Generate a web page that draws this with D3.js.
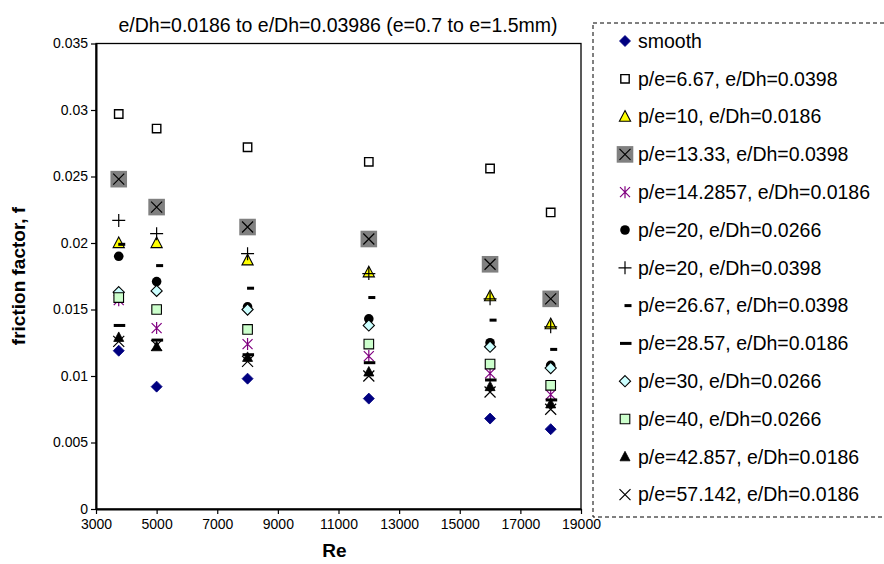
<!DOCTYPE html>
<html>
<head>
<meta charset="utf-8">
<script src="https://cdn.jsdelivr.net/npm/d3@7"></script>
<style>
  html, body { margin: 0; padding: 0; background: #fff; }
  svg { display: block; font-family: "Liberation Sans", Arial, sans-serif; }
</style>
</head>
<body>
<svg id="chart" width="884" height="564"></svg>
<script>
// ---------------- DATA ----------------
const reynolds = [3750, 5000, 8000, 12000, 16000, 18000];

const seriesNames = [
  "smooth",
  "p/e=6.67, e/Dh=0.0398",
  "p/e=10, e/Dh=0.0186",
  "p/e=13.33, e/Dh=0.0398",
  "p/e=14.2857, e/Dh=0.0186",
  "p/e=20, e/Dh=0.0266",
  "p/e=20, e/Dh=0.0398",
  "p/e=26.67, e/Dh=0.0398",
  "p/e=28.57, e/Dh=0.0186",
  "p/e=30, e/Dh=0.0266",
  "p/e=40, e/Dh=0.0266",
  "p/e=42.857, e/Dh=0.0186",
  "p/e=57.142, e/Dh=0.0186"
];

const smooth   = [0.0119, 0.0092, 0.0098, 0.0083, 0.0068, 0.0060];
const pe6_67   = [0.0297, 0.0286, 0.0272, 0.0261, 0.0256, 0.0223];
const pe10     = [0.0200, 0.0200, 0.0187, 0.0178, 0.0160, 0.0139];
const pe13_33  = [0.0248, 0.0227, 0.0212, 0.0203, 0.0184, 0.0158];
const pe14_29  = [0.0157, 0.0136, 0.0124, 0.0115, 0.0102, 0.0086];
const pe20a    = [0.0190, 0.0171, 0.0152, 0.0143, 0.0125, 0.0108];
const pe20b    = [0.0217, 0.0207, 0.0192, 0.0177, 0.0158, 0.0137];
const pe26_67  = [0.0199, 0.0183, 0.0166, 0.0159, 0.0142, 0.0120];
const pe28_57  = [0.0138, 0.0127, 0.0116, 0.0110, 0.0097, 0.0082];
const pe30     = [0.0163, 0.0164, 0.0150, 0.0138, 0.0122, 0.0106];
const pe40     = [0.0159, 0.0150, 0.0135, 0.0124, 0.0109, 0.0093];
const pe42_857 = [0.0129, 0.0122, 0.0114, 0.0103, 0.0092, 0.0079];
const pe57_142 = [0.0126, 0.0123, 0.0111, 0.0100, 0.0088, 0.0075];

const xTicks = [3000, 5000, 7000, 9000, 11000, 13000, 15000, 17000, 19000];
const yTicks = [0, 0.005, 0.01, 0.015, 0.02, 0.025, 0.03, 0.035];

const titleText = "e/Dh=0.0186 to e/Dh=0.03986 (e=0.7 to e=1.5mm)";
const xTitle = "Re";
const yTitle = "friction factor, f";

const seriesValues = [smooth, pe6_67, pe10, pe13_33, pe14_29, pe20a, pe20b,
                      pe26_67, pe28_57, pe30, pe40, pe42_857, pe57_142];

// ---------------- MARKERS (styles) ----------------
const markerTypes = ["diamondNavy", "squareWhite", "triYellow", "graySqX", "asterisk",
                     "circle", "plus", "shortDash", "longDash", "diamondCyan",
                     "squareGreen", "triBlack", "xMark"];

function diamondPath(r) { return `M0,${-r}L${r},0L0,${r}L${-r},0Z`; }
function squarePath(h) { return `M${-h},${-h}H${h}V${h}H${-h}Z`; }
function triPath(w, hTop, hBot) { return `M0,${-hTop}L${w},${hBot}L${-w},${hBot}Z`; }

function drawMarker(g, type) {
  switch (type) {
    case "diamondNavy":
      g.append("path").attr("d", diamondPath(5.5)).attr("fill", "#000080").attr("stroke", "#000080").attr("stroke-width", 0.8);
      break;
    case "squareWhite":
      g.append("path").attr("d", squarePath(4.2)).attr("fill", "#fff").attr("stroke", "#000").attr("stroke-width", 1.4);
      break;
    case "triYellow":
      g.append("path").attr("d", triPath(5.6, 6, 4.6)).attr("fill", "#ffff00").attr("stroke", "#000").attr("stroke-width", 1.1);
      break;
    case "graySqX":
      g.append("rect").attr("x", -8.3).attr("y", -8.3).attr("width", 16.6).attr("height", 16.6).attr("fill", "#808080");
      g.append("path").attr("d", "M-5.5,-5.5L5.5,5.5M5.5,-5.5L-5.5,5.5").attr("stroke", "#000").attr("stroke-width", 1.2).attr("fill", "none");
      break;
    case "asterisk":
      g.append("path").attr("d", "M-5,-5L5,5M5,-5L-5,5M0,-6V6").attr("stroke", "#800080").attr("stroke-width", 1.2).attr("fill", "none");
      break;
    case "circle":
      g.append("circle").attr("r", 4.8).attr("fill", "#000");
      break;
    case "plus":
      g.append("path").attr("d", "M-6.5,0H6.5M0,-6.5V6.5").attr("stroke", "#000").attr("stroke-width", 1.2).attr("fill", "none");
      break;
    case "shortDash":
      g.append("rect").attr("x", -0.5).attr("y", -1.5).attr("width", 7).attr("height", 3).attr("fill", "#000");
      break;
    case "longDash":
      g.append("rect").attr("x", -5).attr("y", -1.5).attr("width", 11.5).attr("height", 3).attr("fill", "#000");
      break;
    case "diamondCyan":
      g.append("path").attr("d", diamondPath(5.6)).attr("fill", "#ccffff").attr("stroke", "#000").attr("stroke-width", 1.1);
      break;
    case "squareGreen":
      g.append("path").attr("d", squarePath(4.8)).attr("fill", "#ccffcc").attr("stroke", "#000").attr("stroke-width", 1.1);
      break;
    case "triBlack":
      g.append("path").attr("d", triPath(5, 5.5, 4)).attr("fill", "#000").attr("stroke", "#000").attr("stroke-width", 0.8);
      break;
    case "xMark":
      g.append("path").attr("d", "M-5.5,-5.5L5.5,5.5M5.5,-5.5L-5.5,5.5").attr("stroke", "#000").attr("stroke-width", 1.2).attr("fill", "none");
      break;
  }
}

// ---------------- LAYOUT ----------------
const svg = d3.select("#chart");
const plot = { left: 96, right: 581, top: 43.5, bottom: 509 };

const x = d3.scaleLinear().domain([3000, 19000]).range([plot.left, plot.right]);
const y = d3.scaleLinear().domain([0, 0.035]).range([plot.bottom, plot.top]);

// Plot border
svg.append("rect")
  .attr("x", plot.left).attr("y", plot.top)
  .attr("width", plot.right - plot.left).attr("height", plot.bottom - plot.top)
  .attr("fill", "none").attr("stroke", "#000").attr("stroke-width", 1.3);

// Axes
const xAxis = svg.append("g")
  .attr("transform", `translate(0,${plot.bottom})`)
  .call(d3.axisBottom(x).tickValues(xTicks).tickFormat(d3.format("d")).tickSize(5).tickSizeOuter(0));
const yAxis = svg.append("g")
  .attr("transform", `translate(${plot.left},0)`)
  .call(d3.axisLeft(y).tickValues(yTicks).tickFormat(d => d === 0 ? "0" : d3.format("")(+d.toFixed(3))).tickSize(5).tickSizeOuter(0));

[xAxis, yAxis].forEach(a => {
  a.select(".domain").attr("stroke", "#000").attr("stroke-width", 2);
  a.selectAll(".tick line").attr("stroke", "#000").attr("stroke-width", 1.2);
  a.selectAll(".tick text").attr("fill", "#000").style("font-size", "14px")
    .style("font-family", '"Liberation Sans", Arial, sans-serif');
});
xAxis.selectAll(".tick text").attr("dy", "0.71em").attr("y", 10);
yAxis.selectAll(".tick text").attr("x", -8);

// Titles
svg.append("text").attr("x", 338).attr("y", 32).attr("text-anchor", "middle")
  .style("font-size", "19.5px").attr("fill", "#000").text(titleText);
svg.append("text").attr("x", x(11000) - 4).attr("y", 557).attr("text-anchor", "middle")
  .style("font-size", "19px").style("font-weight", "bold").attr("fill", "#000").text(xTitle);
svg.append("text").attr("transform", `translate(25,276) rotate(-90)`).attr("text-anchor", "middle")
  .style("font-size", "19px").style("font-weight", "bold").attr("fill", "#000").text(yTitle);

// Series points
seriesValues.forEach((vals, si) => {
  const sg = svg.append("g").attr("class", "series");
  vals.forEach((v, i) => {
    const g = sg.append("g").attr("transform", `translate(${x(reynolds[i])},${y(v)})`);
    drawMarker(g, markerTypes[si]);
  });
});

// Legend
const legend = { left: 593, top: 23, right: 900, bottom: 517, first: 41, step: 37.8 };
svg.append("rect")
  .attr("x", legend.left).attr("y", legend.top)
  .attr("width", legend.right - legend.left).attr("height", legend.bottom - legend.top)
  .attr("fill", "#fff").attr("stroke", "#000").attr("stroke-width", 1).attr("stroke-dasharray", "4,3");

seriesNames.forEach((name, si) => {
  const yy = legend.first + si * legend.step;
  const g = svg.append("g").attr("transform", `translate(625,${yy})`);
  drawMarker(g, markerTypes[si]);
  svg.append("text").attr("x", 638).attr("y", yy).attr("dy", "0.35em")
    .style("font-size", "19.5px").attr("fill", "#000").text(name);
});
</script>
</body>
</html>
